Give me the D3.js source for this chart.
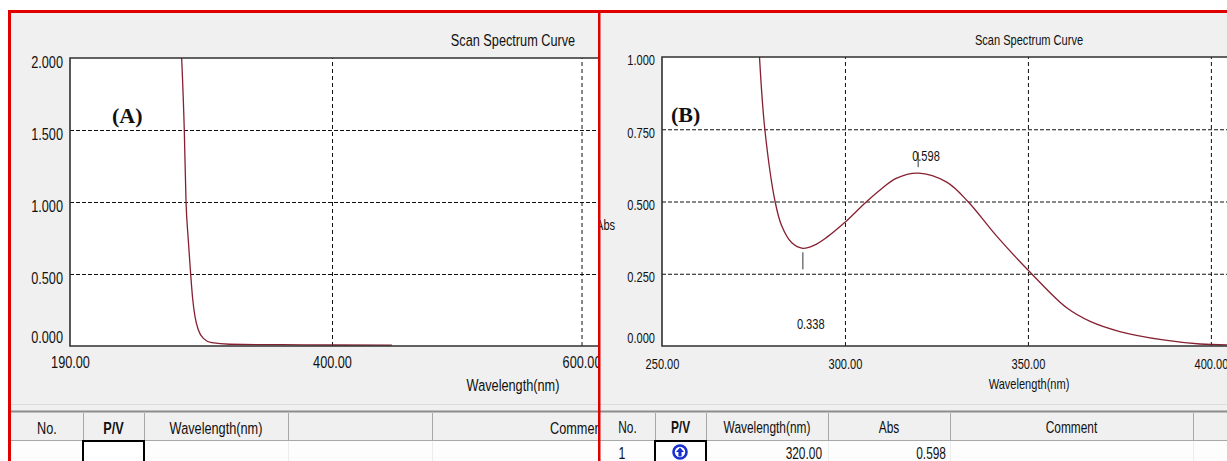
<!DOCTYPE html>
<html lang="en">
<head>
<meta charset="UTF-8">
<title>Scan Spectrum Curve</title>
<script src="https://d3js.org/d3.v7.min.js"></script>
<style>
  body { margin: 0; background: #fff; }
  svg text { font-family: "Liberation Sans", Arial, sans-serif; fill: #111; }
</style>
</head>
<body>
<script>
// ---- data ----
var wlA  = [279, 279.5, 281.6, 283.0, 284.7, 286.7, 288.3, 290.2, 292.9, 296.9, 303.6, 318, 360, 400, 448];
var absA = [2.1, 2.0, 1.5, 1.0, 0.75, 0.5, 0.33, 0.204, 0.111, 0.053, 0.023, 0.012, 0.009, 0.007, 0.006];

var wlB  = [276.6, 278.1, 280.9, 282.7, 285.4, 288.5, 291.5, 294.9, 300, 305.5, 309.6, 314, 320, 327.8, 333.6, 341.4, 351, 360.6, 367, 375.1, 387, 397, 404.4];
var absB = [1.01, 0.75, 0.5, 0.416, 0.358, 0.338, 0.348, 0.375, 0.428, 0.495, 0.540, 0.580, 0.598, 0.567, 0.5, 0.381, 0.25, 0.132, 0.085, 0.050, 0.021, 0.007, 0.004];

var peakWl = [320], peakAbs = [0.598];
var valleyWl = [288.5], valleyAbs = [0.338];

var xTicksA = [190, 400, 600], yTicksA = [0, 0.5, 1.0, 1.5, 2.0];
var xTicksB = [250, 300, 350, 400], yTicksB = [0, 0.25, 0.5, 0.75, 1.0];

var headA = ["No.", "P/V", "Wavelength(nm)", "", "Comment"];
var headB = ["No.", "P/V", "Wavelength(nm)", "Abs", "Comment", ""];
var rowB  = ["1", "", "320.00", "0.598", "", ""];

// ---- layout ----
var W = 1227, H = 461, BOTTOM = 346;
var TALL = 1.12;          // glyphs a bit taller than Arial at the same width
var NARROW = 0.82 / TALL; // then squeezed back horizontally
function fsz(v) { return (v * TALL) + "px"; }

var svg = d3.select("body").append("svg").attr("width", W).attr("height", H);
var defs = svg.append("defs");
var curveColor = "#862030";

var panels = [
  { id: "A", left: 11, right: 598, x0: 70, x1: 598, y0: 58, xDom: [190, 613.2], yDom: [0, 2],
    wl: wlA, ab: absA, xt: xTicksA, yt: yTicksA, fs: 15.5, tfs: 15.5, pad: 10,
    curve: d3.curveMonotoneX,
    tag: [112, 123], titleX: 513, titleY: 45.5, axTitleY: 391,
    cols: [11, 83, 144, 288, 432, 720], head: headA, headY: 434 },
  { id: "B", left: 600, right: 1227, x0: 662, x1: 1227, y0: 57, xDom: [250, 404.4], yDom: [0, 1],
    wl: wlB, ab: absB, xt: xTicksB, yt: yTicksB, fs: 13.5, tfs: 14.5, pad: 11.8,
    curve: d3.curveCatmullRom.alpha(0.5),
    tag: [671, 122], titleX: 1029, titleY: 44.5, axTitleY: 388.5,
    cols: [600, 655, 706, 828, 950, 1193, 1227], head: headB, headY: 432.5 }
];

panels.forEach(function(p) {
  defs.append("clipPath").attr("id", "clip" + p.id).append("rect")
    .attr("x", p.left).attr("y", 13).attr("width", p.right - p.left).attr("height", H - 13);
  defs.append("clipPath").attr("id", "plot" + p.id).append("rect")
    .attr("x", p.x0).attr("y", p.y0).attr("width", p.x1 - p.x0).attr("height", BOTTOM - p.y0);

  var g = svg.append("g").attr("clip-path", "url(#clip" + p.id + ")");
  g.append("rect").attr("x", p.left).attr("y", 13).attr("width", p.right - p.left)
    .attr("height", H - 13).attr("fill", "#f0f0f0");

  var x = d3.scaleLinear().domain(p.xDom).range([p.x0, p.x1]);
  var y = d3.scaleLinear().domain(p.yDom).range([BOTTOM, p.y0]);

  g.append("rect").attr("x", p.x0).attr("y", p.y0).attr("width", p.x1 - p.x0)
    .attr("height", BOTTOM - p.y0).attr("fill", "#fff");

  // dashed grid
  var gy = g.append("g").attr("transform", "translate(" + p.x0 + ",0)")
    .call(d3.axisLeft(y).tickValues(p.yt.filter(function(d) { return d > p.yDom[0] && d < p.yDom[1]; }))
      .tickSize(-(p.x1 - p.x0)).tickFormat(""));
  gy.select(".domain").remove();
  gy.selectAll("line").attr("stroke", "#111").attr("stroke-dasharray", "4,2");

  var gx = g.append("g").attr("transform", "translate(0," + BOTTOM + ")")
    .call(d3.axisBottom(x).tickValues(p.xt.filter(function(d) { return d > p.xDom[0]; }))
      .tickSize(-(BOTTOM - p.y0)).tickFormat(""));
  gx.select(".domain").remove();
  gx.selectAll("line").attr("stroke", "#111").attr("stroke-dasharray", "4,3");

  // spectrum
  var line = d3.line().x(function(d) { return x(d[0]); }).y(function(d) { return y(d[1]); })
    .curve(p.curve);
  g.append("path").datum(d3.zip(p.wl, p.ab))
    .attr("clip-path", "url(#plot" + p.id + ")")
    .attr("d", line).attr("fill", "none").attr("stroke", curveColor).attr("stroke-width", 1.3);

  // frame
  g.append("path").attr("d", "M" + p.x1 + "," + p.y0 + "H" + p.x0 + "V" + BOTTOM + "H" + p.x1)
    .attr("fill", "none").attr("stroke", "#303030").attr("stroke-width", 1.6);

  // tick labels
  var ay = g.append("g").attr("transform", "translate(" + p.x0 + ",0)")
    .call(d3.axisLeft(y).tickValues(p.yt).tickSize(0).tickPadding(7).tickFormat(d3.format(".3f")));
  ay.select(".domain").remove();
  ay.selectAll("text").style("font-size", fsz(p.fs))
    .attr("dy", function(d) { return d === 0 ? "-0.2em" : "0.52em"; });

  var ax = g.append("g").attr("transform", "translate(0," + BOTTOM + ")")
    .call(d3.axisBottom(x).tickValues(p.xt).tickSize(0).tickPadding(p.pad).tickFormat(d3.format(".2f")));
  ax.select(".domain").remove();
  ax.selectAll("text").style("font-size", fsz(p.fs));

  g.append("text").attr("x", p.titleX).attr("y", p.titleY).attr("text-anchor", "middle")
    .style("font-size", fsz(p.fs)).text("Scan Spectrum Curve");
  g.append("text").attr("x", p.titleX).attr("y", p.axTitleY).attr("text-anchor", "middle")
    .style("font-size", fsz(p.fs)).text("Wavelength(nm)");

  g.append("text").attr("class", "serif").attr("x", p.tag[0]).attr("y", p.tag[1])
    .style("font-family", "'Liberation Serif', 'Times New Roman', serif")
    .style("font-weight", "bold").style("font-size", "22px").text("(" + p.id + ")");

  // results table
  var t = g.append("g");
  t.append("line").attr("x1", p.left).attr("x2", p.right).attr("y1", 404.5).attr("y2", 404.5)
    .attr("stroke", "#dcdcdc");
  t.append("rect").attr("x", p.left).attr("y", 441).attr("width", p.right - p.left).attr("height", 20)
    .attr("fill", "#fdfdfd");
  t.append("line").attr("x1", p.left).attr("x2", p.right).attr("y1", 411.5).attr("y2", 411.5)
    .attr("stroke", "#8c8c8c").attr("stroke-width", 2);
  t.append("line").attr("x1", p.left).attr("x2", p.right).attr("y1", 440.5).attr("y2", 440.5)
    .attr("stroke", "#a8a8a8");
  t.selectAll(".sep").data(p.cols.slice(1, -1)).enter().append("line")
    .attr("x1", function(d) { return d + 0.5; }).attr("x2", function(d) { return d + 0.5; })
    .attr("y1", 413).attr("y2", 440).attr("stroke", "#a8a8a8");
  t.selectAll(".sep2").data(p.cols.slice(1, -1)).enter().append("line")
    .attr("x1", function(d) { return d + 0.5; }).attr("x2", function(d) { return d + 0.5; })
    .attr("y1", 441).attr("y2", H).attr("stroke", "#ececec");
  t.selectAll(".head").data(p.head).enter().append("text")
    .attr("x", function(d, i) {
      if (p.id === "A" && d === "Comment") return 550;
      return (p.cols[i] + p.cols[i + 1]) / 2;
    })
    .attr("y", p.headY)
    .attr("text-anchor", function(d) { return (p.id === "A" && d === "Comment") ? "start" : "middle"; })
    .style("font-size", fsz(p.tfs))
    .style("font-weight", function(d) { return d === "P/V" ? "bold" : "normal"; })
    .text(function(d) { return d; });
  t.append("rect").attr("x", p.cols[1]).attr("y", 441).attr("width", p.cols[2] - p.cols[1])
    .attr("height", 22).attr("fill", "#fff").attr("stroke", "#000").attr("stroke-width", 2);

  if (p.id === "B") {
    // peak / valley marks
    g.selectAll(".pk").data(d3.zip(peakWl, peakAbs)).enter().append("line")
      .attr("x1", function(d) { return x(d[0]); }).attr("x2", function(d) { return x(d[0]); })
      .attr("y1", function(d) { return y(d[1]) - 21; }).attr("y2", function(d) { return y(d[1]) - 6; })
      .attr("stroke", "#333");
    g.selectAll(".pkt").data(d3.zip(peakWl, peakAbs)).enter().append("text")
      .attr("x", function(d) { return x(d[0]) - 6; }).attr("y", function(d) { return y(d[1]) - 12; })
      .style("font-size", fsz(13.5)).text(function(d) { return d3.format(".3f")(d[1]); });
    g.selectAll(".vl").data(d3.zip(valleyWl, valleyAbs)).enter().append("line")
      .attr("x1", function(d) { return x(d[0]); }).attr("x2", function(d) { return x(d[0]); })
      .attr("y1", function(d) { return y(d[1]) + 4; }).attr("y2", function(d) { return y(d[1]) + 21; })
      .attr("stroke", "#333");
    g.selectAll(".vlt").data(d3.zip(valleyWl, valleyAbs)).enter().append("text")
      .attr("x", function(d) { return x(d[0]) - 6; }).attr("y", 328.5)
      .style("font-size", fsz(13.5)).text(function(d) { return d3.format(".3f")(d[1]); });

    g.append("text").attr("x", 596).attr("y", 229.5).style("font-size", fsz(13.5)).text("Abs");

    // first row of the table
    g.append("text").attr("x", 622).attr("y", 458.5).attr("text-anchor", "middle")
      .style("font-size", fsz(15)).text(rowB[0]);
    g.append("text").attr("x", 822).attr("y", 458.5).attr("text-anchor", "end")
      .style("font-size", fsz(p.tfs)).text(rowB[2]);
    g.append("text").attr("x", 946).attr("y", 458.5).attr("text-anchor", "end")
      .style("font-size", fsz(p.tfs)).text(rowB[3]);
    var ic = g.append("g").attr("transform", "translate(680,452)");
    ic.append("circle").attr("r", 6.5).attr("fill", "#fff").attr("stroke", "#1a2fd0").attr("stroke-width", 2.6);
    ic.append("path").attr("d", "M0,-4.5L4,0H1.6V4.5H-1.6V0H-4Z").attr("fill", "#1a2fd0");
  }
});

// squeeze the sans texts horizontally, like the narrow instrument font
svg.selectAll("text").filter(function() { return this.getAttribute("class") !== "serif"; })
  .each(function() {
    var w = this.getComputedTextLength();
    if (w > 0) {
      this.setAttribute("textLength", w * NARROW);
      this.setAttribute("lengthAdjust", "spacingAndGlyphs");
    }
  });

// red outline round the two panels
svg.append("rect").attr("x", 8).attr("y", 10).attr("width", W - 8).attr("height", 3).attr("fill", "#e00000");
svg.append("rect").attr("x", 8).attr("y", 10).attr("width", 3).attr("height", H - 10).attr("fill", "#e00000");
svg.append("rect").attr("x", 598).attr("y", 10).attr("width", 2.5).attr("height", H - 10).attr("fill", "#e00000");
</script>
</body>
</html>
